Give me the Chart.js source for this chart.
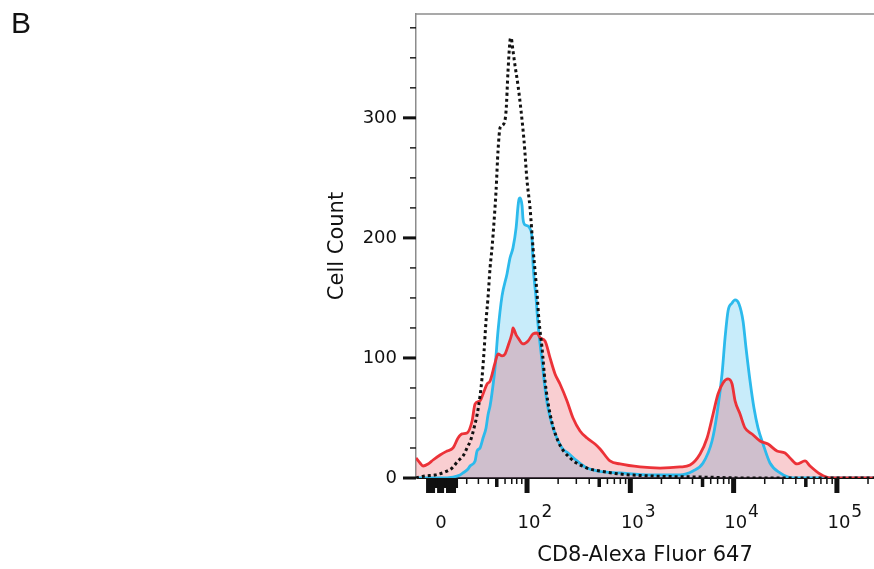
<!DOCTYPE html>
<html><head><meta charset="utf-8">
<script src="https://cdn.jsdelivr.net/npm/chart.js@4.4.0/dist/chart.umd.min.js"></script>
<style>html,body{margin:0;padding:0;background:#fff;}#wrap{width:874px;height:569px;}</style>
</head><body><div id="wrap"><canvas id="c" width="874" height="569"></canvas></div>
<script>
// x values are in display (biexponential) axis units: 2 = 10^2, 3 = 10^3 ...
const controlX = [0.925,1.013,1.109,1.206,1.274,1.332,1.380,1.419,1.458,1.487,1.516,1.545,1.564,1.584,1.603,1.622,1.642,1.661,1.681,1.700,1.719,1.739,1.768,1.797,1.816,1.835,1.845,1.864,1.884,1.913,1.942,1.971,2.000,2.029,2.058,2.097,2.116,2.145,2.174,2.223,2.300,2.416,2.581,2.707,2.900,3.191,3.675,4.159,5.359];
const controlY = [0,1.7,2.5,5,8.3,14.2,18.3,25,32.5,41.7,52.5,68.3,83.3,105.8,130.8,150,175,191.7,214.2,239.2,272.5,291.7,294.2,305.8,339.2,364.2,366.7,355.8,343.3,326.7,305.8,280.8,247.5,225,191.7,153.3,130.8,108.3,80.8,53.3,30.8,16.7,8.3,5.8,3.3,1.7,0.8,0,0];

const blueX = [0.925,1.158,1.284,1.351,1.380,1.429,1.448,1.497,1.516,1.545,1.574,1.603,1.622,1.642,1.661,1.690,1.719,1.758,1.806,1.835,1.864,1.894,1.913,1.923,1.932,1.952,1.961,1.981,2.010,2.029,2.048,2.058,2.087,2.106,2.145,2.174,2.203,2.252,2.339,2.397,2.484,2.581,2.687,2.900,3.191,3.481,3.607,3.704,3.791,3.839,3.888,3.917,3.946,3.985,4.014,4.052,4.091,4.120,4.159,4.197,4.236,4.285,4.352,4.449,4.575,5.359];
const blueY = [0,0,0.8,2.5,4.2,7.5,10,14.2,22.5,25,33.3,41.7,52.5,60,70.8,91.7,122.5,151.7,170,183.3,191.7,208.3,226.7,232.5,233.3,226.7,215.8,210.8,210,207.5,200,178.3,150,128.3,97.5,75,58.3,41.7,25,20.8,14.2,8.3,5.8,4.2,2.5,2.5,5.8,12.5,30.8,53.3,86.7,116.7,139.2,145.8,148.3,145,130.8,108.3,80.8,58.3,41.7,28.3,12.5,4.2,0,0];

const redX = [0.925,0.964,0.993,1.042,1.090,1.158,1.226,1.284,1.332,1.371,1.419,1.468,1.497,1.545,1.574,1.613,1.642,1.690,1.719,1.758,1.787,1.816,1.855,1.864,1.894,1.913,1.961,2.010,2.058,2.097,2.126,2.174,2.223,2.271,2.319,2.387,2.445,2.513,2.581,2.658,2.707,2.803,2.900,3.094,3.288,3.481,3.578,3.675,3.743,3.801,3.849,3.897,3.946,3.985,4.014,4.062,4.110,4.178,4.256,4.333,4.420,4.498,4.546,4.614,4.691,4.740,4.837,4.933,5.359];
const redY = [16.7,12.5,10,11.7,15,19.2,22.5,25,33.3,36.7,37.5,47.5,61.7,64.2,70,78.3,80.8,95.8,103.3,101.7,103.3,110,120.8,125,119.2,116.7,111.7,114.2,120,120.8,116.7,114.2,100,86.7,78.3,64.2,50,39.2,33.3,28.3,24.2,14.2,11.7,9.2,8.3,9.2,10.8,20,33.3,53.3,70,79.2,82.5,78.3,64.2,53.3,41.7,36.7,30.8,28.3,22.5,20.8,16.7,11.7,14.2,10,3.3,0,0];

const yTickValues = [0,100,200,300];
const yMinorStep = 25, yMinorMax = 375;
const xZeroPos = 1.167;
const xDecades = [2,3,4,5];
const xDecadeLabels = ['2','3','4','5'];
const xLowTicks = [1.416,1.529,1.625,1.787,1.852,1.900,1.949];
const xLowMedium = 1.707;
const xZeroLong = [1.066,1.163,1.264];
const xZeroBand = [1.032,1.332];

const pts = (xs, ys) => xs.map((v,i) => ({x:v, y:ys[i]}));

const axisMarks = {
  id: 'axisMarks',
  afterDraw(chart) {
    const {ctx, chartArea: a, scales: {x, y}} = chart;
    ctx.save();
    ctx.strokeStyle = '#8c8c8c'; ctx.lineWidth = 1.5;
    ctx.beginPath(); ctx.moveTo(a.left, a.top); ctx.lineTo(a.right, a.top); ctx.stroke();
    ctx.fillStyle = '#111';
    for (let v = 0; v <= yMinorMax; v += yMinorStep) {
      const py = y.getPixelForValue(v);
      const major = yTickValues.includes(v);
      const len = major ? 13 : 6, w = major ? 3 : 1.4;
      ctx.fillRect(a.left - len, py - w/2, len, w);
    }
    const bar = (t, len, w) => { const px = x.getPixelForValue(t); ctx.fillRect(px - w/2, a.bottom, w, len); };
    xDecades.forEach(d => bar(d, 15, 5));
    xLowTicks.forEach(t => bar(t, 6, 1.5));
    bar(xLowMedium, 9, 3.5);
    [2,3,4].forEach(k => {
      [2,3,4,6,7,8,9].forEach(m => bar(k + Math.log10(m), 6, 1.5));
      bar(k + Math.log10(5), 9, 3.5);
    });
    bar(5 + Math.log10(2), 6, 1.5);
    const b0 = x.getPixelForValue(xZeroBand[0]), b1 = x.getPixelForValue(xZeroBand[1]);
    ctx.fillRect(b0, a.bottom, b1 - b0, 10);
    bar(xZeroLong[0], 15, 9); bar(xZeroLong[1], 15, 7); bar(xZeroLong[2], 15, 10);
    ctx.textBaseline = 'alphabetic';
    ctx.font = '18px "DejaVu Sans"';
    ctx.textAlign = 'center';
    ctx.fillText('0', x.getPixelForValue(xZeroPos), a.bottom + 50);
    xDecades.forEach((d, i) => {
      const px = x.getPixelForValue(d) + 2;
      ctx.font = '18px "DejaVu Sans"';
      ctx.textAlign = 'center';
      ctx.fillText('10', px, a.bottom + 50);
      const w = ctx.measureText('10').width;
      ctx.font = '17px "DejaVu Sans"';
      ctx.textAlign = 'left';
      ctx.fillText(xDecadeLabels[i], px + w/2 + 1, a.bottom + 39);
    });
    ctx.font = '30px "Liberation Sans"';
    ctx.textAlign = 'left';
    ctx.fillText('B', 11, 33);
    ctx.restore();
  }
};

new Chart(document.getElementById('c'), {
  type: 'line',
  data: {
    datasets: [
      { label: 'Control', data: pts(controlX, controlY), borderColor: '#111', borderWidth: 3,
        borderDash: [3,3], fill: false, pointRadius: 0, tension: 0.3, cubicInterpolationMode: 'monotone' },
      { label: 'Red', data: pts(redX, redY), borderColor: 'rgb(236,50,56)', borderWidth: 2.8,
        backgroundColor: 'rgba(230,60,70,0.25)', fill: 'origin', pointRadius: 0, tension: 0.3, cubicInterpolationMode: 'monotone' },
      { label: 'Blue', data: pts(blueX, blueY), borderColor: 'rgb(44,186,236)', borderWidth: 2.8,
        backgroundColor: 'rgba(35,179,235,0.25)', fill: 'origin', pointRadius: 0, tension: 0.3, cubicInterpolationMode: 'monotone' }
    ]
  },
  options: {
    responsive: false, animation: false, devicePixelRatio: 1,
    layout: { padding: { left: 0, right: 0, top: 14, bottom: 0 } },
    plugins: { legend: { display: false }, tooltip: { enabled: false }, filler: { drawTime: 'beforeDatasetsDraw' } },
    scales: {
      x: {
        type: 'linear', min: 0.925, max: 5.359,
        grid: { display: false },
        border: { display: true, color: '#111', width: 2 },
        ticks: { display: false },
        title: { display: true, text: 'CD8-Alexa Fluor 647', color: '#111',
          font: { family: 'DejaVu Sans', size: 21 }, padding: { top: 0, bottom: 1 } },
        afterFit: s => { s.height = 91; s.paddingLeft = 0; s.paddingRight = 0; }
      },
      y: {
        type: 'linear', min: 0, max: 386.5,
        grid: { display: false, drawTicks: false },
        border: { display: true, color: '#8c8c8c', width: 1.5 },
        afterBuildTicks: s => { s.ticks = yTickValues.map(v => ({ value: v })); },
        ticks: { color: '#111', font: { family: 'DejaVu Sans', size: 18 }, padding: 19, autoSkip: false },
        title: { display: true, text: 'Cell Count', color: '#111',
          font: { family: 'DejaVu Sans', size: 21 }, padding: { top: 325, bottom: 0 } },
        afterFit: s => { s.width = 416; s.paddingTop = 0; s.paddingBottom = 0; }
      }
    }
  },
  plugins: [axisMarks]
});
</script></body></html>
